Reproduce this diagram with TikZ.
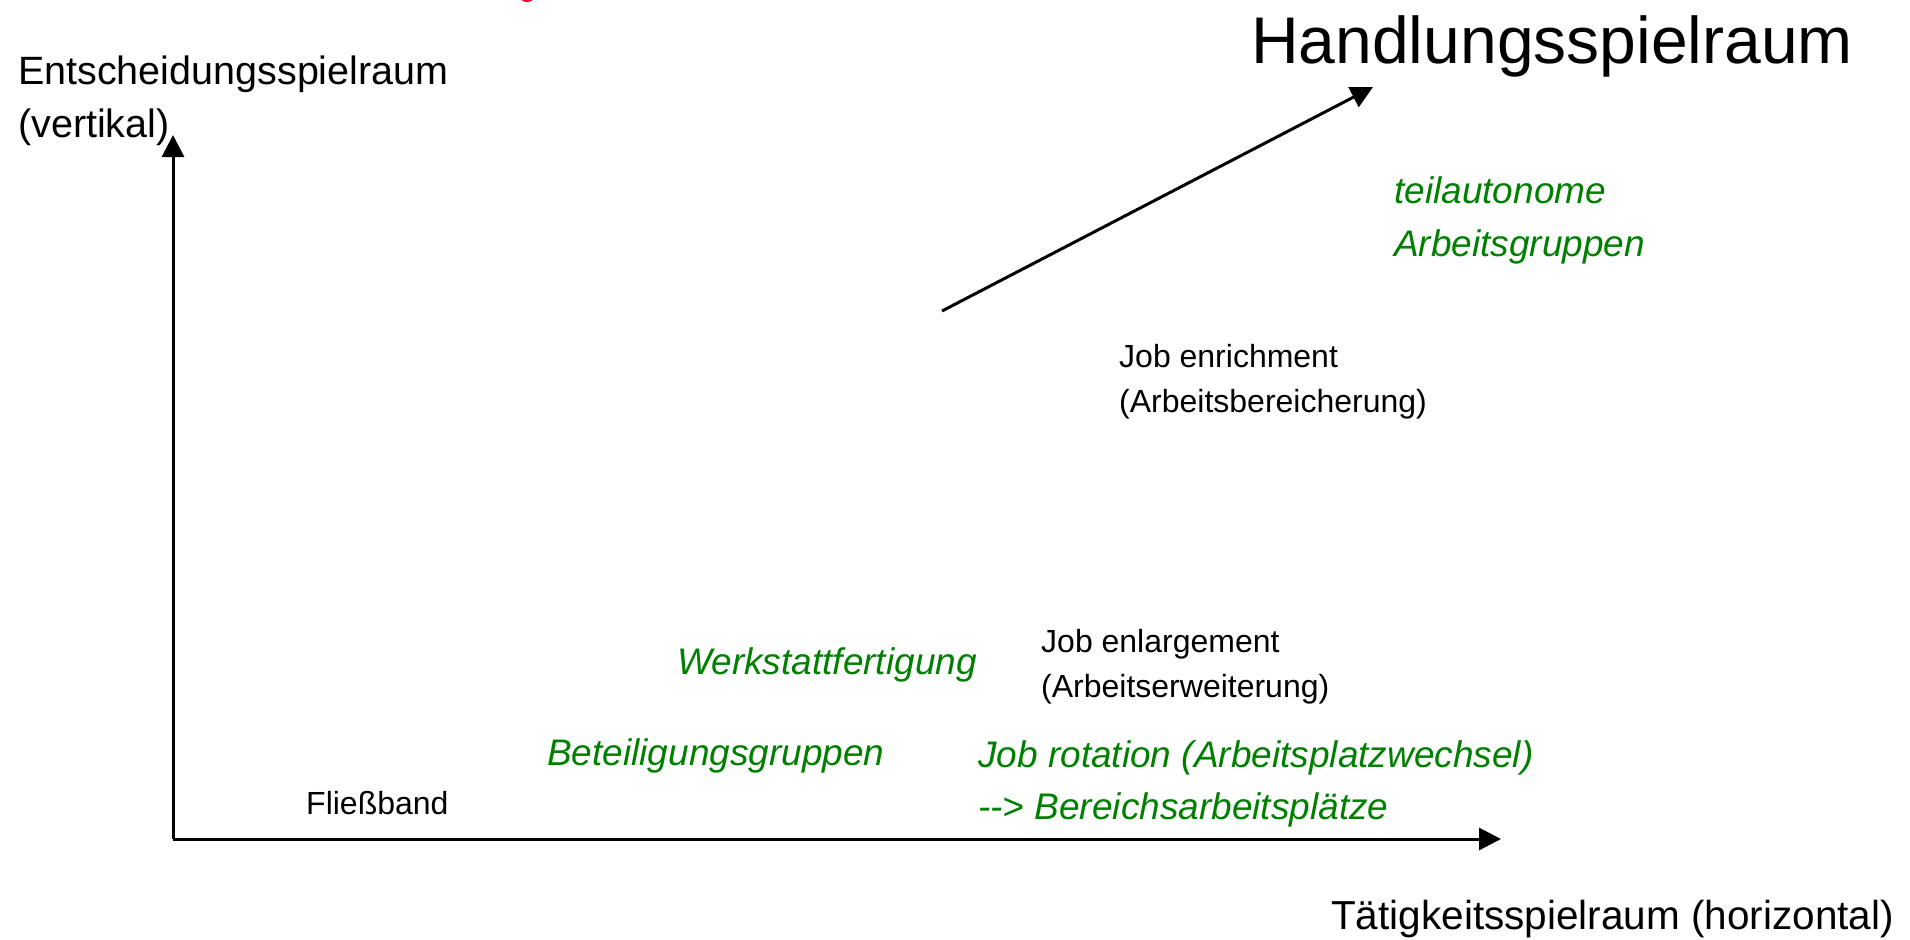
\documentclass[tikz,border=0pt]{standalone}
\usepackage{fontspec}
\setmainfont{Liberation Sans}
\usetikzlibrary{arrows.meta}
\definecolor{labelgreen}{RGB}{0,128,0}
\definecolor{titlered}{RGB}{255,0,40}
\tikzset{
  axisline/.style={line width=3pt, -{Triangle[width=22pt,length=22pt]}},
  txt/.style={inner sep=0pt, anchor=base west},
  axislabel/.style={txt, font=\fontsize{40.5}{48}\selectfont},
  bigtitle/.style={txt, font=\fontsize{66}{78}\selectfont},
  blacklabel/.style={txt, font=\fontsize{32}{38}\selectfont},
  greenlabel/.style={txt, text=labelgreen, font=\fontsize{37}{44}\selectfont\itshape},
}
\begin{document}
\begin{tikzpicture}[x=1pt,y=-1pt]
  \useasboundingbox (0,0) rectangle (1910,939);
  \fill[white] (0,0) rectangle (1910,939);

  % cut-off red mark at the top edge
  \fill[titlered] (527,-3) ellipse [x radius=7, y radius=5];

  % axes
  \coordinate (origin) at (173,839);
  \coordinate (ytip) at (173,135);
  \coordinate (xtip) at (1501,839);
  \draw[axisline] (origin) -- (ytip);
  \draw[axisline] (origin) -- (xtip);

  % diagonal arrow
  \coordinate (dstart) at (942,311);
  \coordinate (dtip) at (1373,87);
  \draw[axisline] (dstart) -- (dtip);

  % axis labels
  \node[axislabel, font=\fontsize{39.5}{48}\selectfont] (yl1) at (18,85) {Entscheidungsspielraum};
  \node[axislabel, font=\fontsize{39.5}{48}\selectfont] (yl2) at (18,138) {(vertikal)};
  \node[axislabel] (xl) at (1331,929) {Tätigkeitsspielraum (horizontal)};
  \node[bigtitle] (title) at (1251,64) {Handlungsspielraum};

  % labels in the field
  \node[greenlabel] (ta1) at (1394,203) {teilautonome};
  \node[greenlabel] (ta2) at (1394,256) {Arbeitsgruppen};
  \node[blacklabel] (je1) at (1119,367) {Job enrichment};
  \node[blacklabel] (je2) at (1119,412) {(Arbeitsbereicherung)};
  \node[greenlabel] (wf) at (677,674) {Werkstattfertigung};
  \node[blacklabel] (jl1) at (1041,652) {Job enlargement};
  \node[blacklabel] (jl2) at (1041,697) {(Arbeitserweiterung)};
  \node[greenlabel] (bg) at (547,765) {Beteiligungsgruppen};
  \node[greenlabel] (jr1) at (978,767) {Job rotation (Arbeitsplatzwechsel)};
  \node[greenlabel] (jr2) at (978,819) {{-}{-}> Bereichsarbeitsplätze};
  \node[blacklabel] (fb) at (306,814) {Fließband};
\end{tikzpicture}
\end{document}
